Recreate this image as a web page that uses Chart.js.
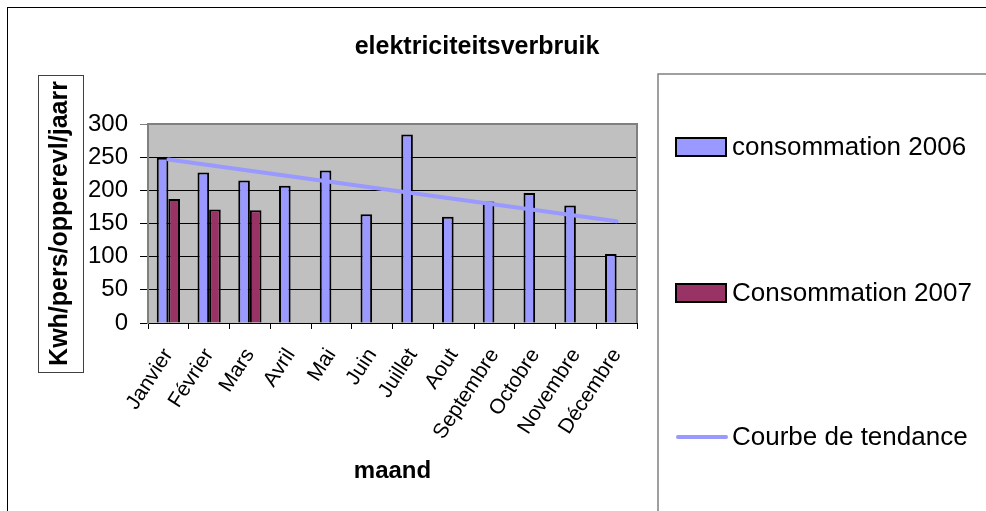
<!DOCTYPE html>
<html>
<head>
<meta charset="utf-8">
<script src="https://cdn.jsdelivr.net/npm/chart.js@4/dist/chart.umd.min.js"></script>
<style>
  html, body { margin: 0; padding: 0; background: #fff; }
  canvas { display: block; }
</style>
</head>
<body>
<canvas id="verbruik" width="986" height="511"></canvas>
<script>
const months = ["Janvier", "Février", "Mars", "Avril", "Mai", "Juin", "Juillet",
  "Aout", "Septembre", "Octobre", "Novembre", "Décembre"];
const conso2006 = [249, 227, 215, 207, 230, 164, 284, 160, 183, 196, 177, 104];
const conso2007 = [187, 171, 170, null, null, null, null, null, null, null, null, null];
// trendline: only its two ends
const tendance = [246.5, null, null, null, null, null, null, null, null, null, null, 153.5];
const yTicks = [0, 50, 100, 150, 200, 250, 300];

Chart.defaults.font.family = "'Liberation Sans', Arial, sans-serif";
Chart.defaults.color = "#000";

// grey plot area, frames and the legend on the right
const frames = {
  id: "frames",
  beforeDraw(chart) {
    const { ctx, chartArea: a } = chart;
    ctx.save();
    ctx.fillStyle = "#c0c0c0";
    ctx.fillRect(a.left, a.top, a.right - a.left, a.bottom - a.top);
    ctx.restore();
  },
  afterDatasetsDraw(chart) {
    const { ctx, chartArea: a } = chart;
    ctx.save();
    ctx.strokeStyle = "#808080";
    ctx.lineWidth = 2;
    ctx.beginPath();
    ctx.moveTo(a.left, a.bottom);
    ctx.lineTo(a.left, a.top);
    ctx.lineTo(a.right, a.top);
    ctx.lineTo(a.right, a.bottom);
    ctx.stroke();
    ctx.restore();
  },
  afterDraw(chart) {
    const ctx = chart.ctx;
    ctx.save();
    // outer chart border
    ctx.strokeStyle = "#000";
    ctx.lineWidth = 1;
    ctx.strokeRect(7.5, 7.5, 1000, 600);
    // box round the y title
    ctx.strokeStyle = "#404040";
    ctx.strokeRect(38.5, 75.5, 45, 297);
    // legend frame
    ctx.strokeStyle = "#808080";
    ctx.lineWidth = 1.5;
    ctx.strokeRect(658, 74, 400, 500);

    const rows = [147, 293, 437];
    ctx.font = "26px 'Liberation Sans', Arial, sans-serif";
    ctx.textBaseline = "middle";
    ctx.textAlign = "left";
    chart.data.datasets.forEach((ds, i) => {
      const y = rows[i];
      if (ds.type === "line") {
        ctx.strokeStyle = ds.borderColor;
        ctx.lineWidth = 4;
        ctx.lineCap = "round";
        ctx.beginPath();
        ctx.moveTo(678, y);
        ctx.lineTo(726, y);
        ctx.stroke();
      } else {
        ctx.fillStyle = ds.backgroundColor;
        ctx.fillRect(676, y - 9, 50, 18);
        ctx.strokeStyle = "#000";
        ctx.lineWidth = 2;
        ctx.strokeRect(676, y - 9, 50, 18);
      }
      ctx.fillStyle = "#000";
      ctx.fillText(ds.label, 732, y + 1);
    });
    ctx.restore();
  }
};

new Chart(document.getElementById("verbruik"), {
  type: "bar",
  data: {
    labels: months,
    datasets: [
      {
        label: "consommation 2006",
        data: conso2006,
        backgroundColor: "#9999ff",
        borderColor: "#000",
        borderWidth: 2,
        order: 1
      },
      {
        label: "Consommation 2007",
        data: conso2007,
        backgroundColor: "#993366",
        borderColor: "#000",
        borderWidth: 2,
        order: 1
      },
      {
        type: "line",
        label: "Courbe de tendance",
        data: tendance,
        spanGaps: true,
        borderColor: "#9999ff",
        borderWidth: 4,
        borderCapStyle: "round",
        pointRadius: 0,
        order: 0
      }
    ]
  },
  options: {
    responsive: false,
    animation: false,
    devicePixelRatio: 1,
    categoryPercentage: 0.57,
    barPercentage: 1,
    layout: { padding: { left: 7, right: 39, top: 0, bottom: 0 } },
    plugins: {
      legend: { display: false },
      tooltip: { enabled: false },
      title: {
        display: true,
        text: "elektriciteitsverbruik",
        font: { size: 25, weight: "bold" },
        padding: { top: 32, bottom: 62 }
      }
    },
    scales: {
      x: {
        grid: {
          offset: true,
          drawOnChartArea: false,
          drawTicks: true,
          tickLength: 6,
          color: "#000"
        },
        border: { color: "#000", width: 1 },
        ticks: {
          autoSkip: false,
          minRotation: 57,
          maxRotation: 57,
          padding: 15,
          font: { size: 21 }
        },
        title: {
          display: true,
          text: "maand",
          font: { size: 24, weight: "bold" },
          padding: { top: 0, bottom: 25 }
        },
        afterFit(scale) { scale.height = 188; }
      },
      y: {
        min: 0,
        max: 300,
        afterBuildTicks(scale) { scale.ticks = yTicks.map(v => ({ value: v })); },
        grid: {
          color: (c) => (c.tick && c.tick.value === 300 ? "#808080" : "#000"),
          tickLength: 8,
          lineWidth: 1
        },
        border: { color: "#808080", width: 2 },
        ticks: { padding: 12, font: { size: 24 } },
        title: {
          display: true,
          text: "Kwh/pers/opperevl/jaarr",
          font: { size: 25, weight: "bold" },
          padding: { top: 38, bottom: 0 }
        },
        afterFit(scale) { scale.width = 141; }
      },
      side: {
        type: "linear",
        position: "right",
        display: true,
        grid: { display: false },
        border: { display: false },
        ticks: { display: false },
        afterFit(scale) { scale.width = 310; }
      }
    }
  },
  plugins: [frames]
});
</script>
</body>
</html>
